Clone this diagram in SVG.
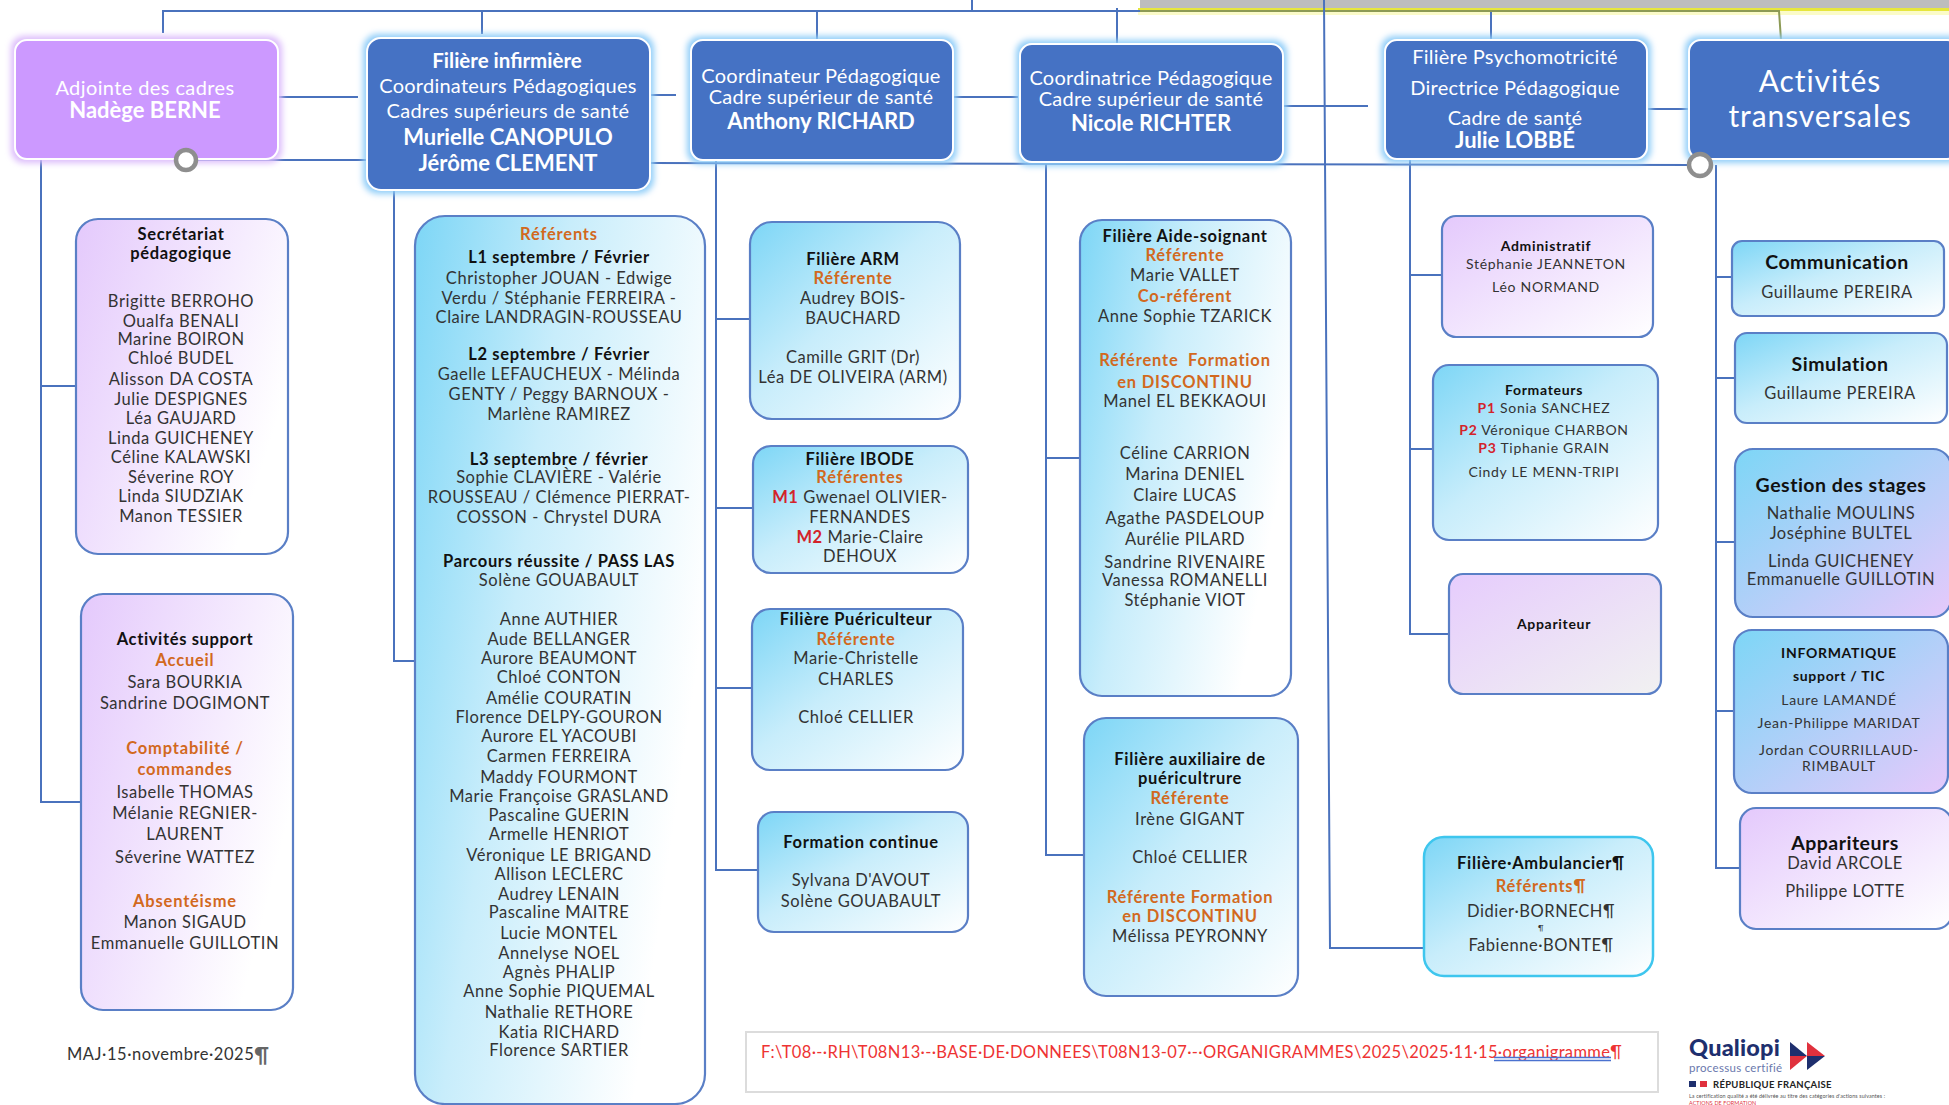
<svg xmlns="http://www.w3.org/2000/svg" width="1949" height="1105" viewBox="0 0 1949 1105">
<style>
text{font-family:"Lato","Liberation Sans",sans-serif;text-anchor:middle;dominant-baseline:central;fill:#333;font-size:16.5px;letter-spacing:.55px}
.b{font-weight:700;fill:#111;letter-spacing:.65px}
.o{font-weight:700;fill:#d2691e;letter-spacing:.8px}
.r{font-weight:700;fill:#d3232a}
.w{fill:#fff;font-size:20px;letter-spacing:.25px;transform:translateY(-1px)}
.wb{fill:#fff;font-size:20.5px;font-weight:700;letter-spacing:0;transform:translateY(-1px)}
.wn{fill:#fff;font-size:22px;font-weight:700;letter-spacing:0;transform:translateY(-1px)}
.s{font-size:14px;letter-spacing:.7px;transform:translateY(-1px)}
.sb{font-size:14px;font-weight:700;fill:#111;letter-spacing:.7px;transform:translateY(-1px)}
.h{font-size:19.5px;font-weight:700;fill:#111;letter-spacing:.5px;transform:translateY(-1px)}
.top{fill:#4472c4;stroke:#fff;stroke-width:2;filter:url(#gb)}
.pur{fill:#cc99ff;stroke:#fff;stroke-width:2;filter:url(#gp)}
.sub{stroke:#5a7fc6;stroke-width:2.2}
.c{fill:url(#cy)}.t{fill:url(#cyr)}.p{fill:url(#pu)}.q{fill:url(#pur)}.m{fill:url(#mx)}.g{fill:url(#pg)}
.ln{fill:none;stroke:#4a72bd;stroke-width:2}
</style>
<defs>
<linearGradient id="cy" x1="0" y1="0" x2="1" y2="1"><stop offset="0" stop-color="#7dd6f6"/><stop offset=".45" stop-color="#c8edfb"/><stop offset="1" stop-color="#fff"/></linearGradient>
<linearGradient id="cyr" x1="0" y1="0" x2="1" y2=".45"><stop offset="0" stop-color="#7dd6f6"/><stop offset=".45" stop-color="#c8edfb"/><stop offset="1" stop-color="#fff"/></linearGradient>
<linearGradient id="pu" x1="0" y1="0" x2="1" y2="1"><stop offset="0" stop-color="#e4c9fc"/><stop offset="1" stop-color="#fff"/></linearGradient>
<linearGradient id="pur" x1="0" y1="0" x2="1" y2=".5"><stop offset="0" stop-color="#e4c9fc"/><stop offset="1" stop-color="#fff"/></linearGradient>
<linearGradient id="pg" x1="0" y1="0" x2="1" y2="1"><stop offset="0" stop-color="#e6ccfd"/><stop offset="1" stop-color="#f1f1f1"/></linearGradient>
<linearGradient id="mx" x1="0" y1="0" x2="1" y2="1"><stop offset="0" stop-color="#7dd6f6"/><stop offset="1" stop-color="#e6c9fb"/></linearGradient>
<filter id="gb" x="-10%" y="-15%" width="120%" height="130%"><feMorphology in="SourceAlpha" operator="dilate" radius="3"/><feGaussianBlur stdDeviation="3" result="a"/><feFlood flood-color="#8fcdf8"/><feComposite in2="a" operator="in"/><feMerge><feMergeNode/><feMergeNode in="SourceGraphic"/></feMerge></filter>
<filter id="gp" x="-10%" y="-15%" width="120%" height="130%"><feMorphology in="SourceAlpha" operator="dilate" radius="3"/><feGaussianBlur stdDeviation="3" result="a"/><feFlood flood-color="#dcbcfb"/><feComposite in2="a" operator="in"/><feMerge><feMergeNode/><feMergeNode in="SourceGraphic"/></feMerge></filter>
</defs>
<rect width="1949" height="1105" fill="#fff"/>
<g id="bandeau"><rect x="1140" y="0" width="809" height="8" fill="#bdbdbd"/><rect x="1138" y="8" width="811" height="3" fill="#e6e63c"/><rect x="1138" y="11" width="811" height="4" fill="#fbfbc8"/></g>
<g id="connectors" class="ln">
<path d="M163 33V11H1140M482 11V34M817 11V40M972 0V11M1117 8V44M1491 11V40"/>
<path d="M1140 11H1779L1781 40" style="stroke:#8c9a55"/>
<path d="M1324 0L1330 948H1424"/>
<path d="M278 97H358M650 95H676M953 97H1018M1283 106H1368M1647 109H1689"/>
<path d="M186 141V160H367M650 163L1700 165"/>
<path d="M41 159V802H81M41 386H76"/>
<path d="M394 189V661H415"/>
<path d="M716 160V870H758M716 319H750M716 508H753M716 688H752"/>
<path d="M1046 162V855H1084M1046 458H1080"/>
<path d="M1410 159V634H1449M1410 275H1442M1410 449H1433"/>
<path d="M1716 165V868H1740M1716 277H1732M1716 378H1735M1716 542H1735M1716 711H1734"/>
</g>
<g id="n-adjointe"><rect class="pur" x="15" y="40" width="263" height="119" rx="12"/><text class="w" x="145" y="88" style="font-size:20px;letter-spacing:.4px">Adjointe des cadres</text><text class="wb" x="145" y="110" style="font-size:22px">Nadège BERNE</text></g>
<g id="n-infirmiere"><rect class="top" x="367" y="38" width="283" height="152" rx="14"/><text class="wb" x="507" y="61">Filière infirmière</text><text class="w" x="508" y="86">Coordinateurs Pédagogiques</text><text class="w" x="508" y="111">Cadres supérieurs de santé</text><text class="wn" x="508" y="137">Murielle CANOPULO</text><text class="wn" x="508" y="163">Jérôme CLEMENT</text></g>
<g id="n-richard"><rect class="top" x="691" y="40" width="262" height="120" rx="12"/><text class="w" x="821" y="76">Coordinateur Pédagogique</text><text class="w" x="821" y="97">Cadre supérieur de santé</text><text class="wn" x="821" y="121">Anthony RICHARD</text></g>
<g id="n-richter"><rect class="top" x="1020" y="44" width="263" height="118" rx="12"/><text class="w" x="1151" y="78">Coordinatrice Pédagogique</text><text class="w" x="1151" y="99">Cadre supérieur de santé</text><text class="wn" x="1151" y="123">Nicole RICHTER</text></g>
<g id="n-lobbe"><rect class="top" x="1385" y="40" width="262" height="119" rx="12"/><text class="w" x="1515" y="57">Filière Psychomotricité</text><text class="w" x="1515" y="88">Directrice Pédagogique</text><text class="w" x="1515" y="118">Cadre de santé</text><text class="wn" x="1515" y="140">Julie LOBBÉ</text></g>
<g id="n-activites"><rect class="top" x="1689" y="40" width="270" height="119" rx="12"/><text class="w" x="1820" y="81" style="font-size:30px;letter-spacing:.9px">Activités</text><text class="w" x="1820" y="116" style="font-size:30px;letter-spacing:.9px">transversales</text></g>

<g id="n-secretariat"><rect class="sub q" x="76" y="219" width="212" height="335" rx="22"/><text class="b" x="181" y="234">Secrétariat</text><text class="b" x="181" y="253">pédagogique</text><text x="181" y="301">Brigitte BERROHO</text><text x="181" y="321">Oualfa BENALI</text><text x="181" y="339">Marine BOIRON</text><text x="181" y="358">Chloé BUDEL</text><text x="181" y="379">Alisson DA COSTA</text><text x="181" y="399">Julie DESPIGNES</text><text x="181" y="418">Léa GAUJARD</text><text x="181" y="438">Linda GUICHENEY</text><text x="181" y="457">Céline KALAWSKI</text><text x="181" y="477">Séverine ROY</text><text x="181" y="496">Linda SIUDZIAK</text><text x="181" y="516">Manon TESSIER</text></g>
<g id="n-support"><rect class="sub q" x="81" y="594" width="212" height="416" rx="22"/><text class="b" x="185" y="639">Activités support</text><text class="o" x="185" y="660">Accueil</text><text x="185" y="682">Sara BOURKIA</text><text x="185" y="703">Sandrine DOGIMONT</text><text class="o" x="185" y="748">Comptabilité /</text><text class="o" x="185" y="769">commandes</text><text x="185" y="792">Isabelle THOMAS</text><text x="185" y="813">Mélanie REGNIER-</text><text x="185" y="834">LAURENT</text><text x="185" y="857">Séverine WATTEZ</text><text class="o" x="185" y="901">Absentéisme</text><text x="185" y="922">Manon SIGAUD</text><text x="185" y="943">Emmanuelle GUILLOTIN</text></g>
<g id="n-referents"><rect class="sub t" x="415" y="216" width="290" height="888" rx="30"/>
<text class="o" x="559" y="234">Référents</text><text class="b" x="559" y="257">L1 septembre / Février</text><text x="559" y="278">Christopher JOUAN - Edwige</text><text x="559" y="298">Verdu / Stéphanie FERREIRA -</text><text x="559" y="317">Claire LANDRAGIN-ROUSSEAU</text>
<text class="b" x="559" y="354">L2 septembre / Février</text><text x="559" y="374">Gaelle LEFAUCHEUX - Mélinda</text><text x="559" y="394">GENTY / Peggy BARNOUX -</text><text x="559" y="414">Marlène RAMIREZ</text>
<text class="b" x="559" y="459">L3 septembre / février</text><text x="559" y="477">Sophie CLAVIÈRE - Valérie</text><text x="559" y="497">ROUSSEAU / Clémence PIERRAT-</text><text x="559" y="517">COSSON - Chrystel DURA</text>
<text class="b" x="559" y="561">Parcours réussite / PASS LAS</text><text x="559" y="580">Solène GOUABAULT</text>
<text x="559" y="619">Anne AUTHIER</text><text x="559" y="639">Aude BELLANGER</text><text x="559" y="658">Aurore BEAUMONT</text><text x="559" y="677">Chloé CONTON</text><text x="559" y="698">Amélie COURATIN</text><text x="559" y="717">Florence DELPY-GOURON</text><text x="559" y="736">Aurore EL YACOUBI</text><text x="559" y="756">Carmen FERREIRA</text><text x="559" y="777">Maddy FOURMONT</text><text x="559" y="796">Marie Françoise GRASLAND</text><text x="559" y="815">Pascaline GUERIN</text><text x="559" y="834">Armelle HENRIOT</text><text x="559" y="855">Véronique LE BRIGAND</text><text x="559" y="874">Allison LECLERC</text><text x="559" y="894">Audrey LENAIN</text><text x="559" y="912">Pascaline MAITRE</text><text x="559" y="933">Lucie MONTEL</text><text x="559" y="953">Annelyse NOEL</text><text x="559" y="972">Agnès PHALIP</text><text x="559" y="991">Anne Sophie PIQUEMAL</text><text x="559" y="1012">Nathalie RETHORE</text><text x="559" y="1032">Katia RICHARD</text><text x="559" y="1050">Florence SARTIER</text></g>
<g id="n-arm"><rect class="sub c" x="750" y="222" width="210" height="197" rx="22"/><text class="b" x="853" y="259">Filière ARM</text><text class="o" x="853" y="278">Référente</text><text x="853" y="298">Audrey BOIS-</text><text x="853" y="318">BAUCHARD</text><text x="853" y="357">Camille GRIT (Dr)</text><text x="853" y="377">Léa DE OLIVEIRA (ARM)</text></g>
<g id="n-ibode"><rect class="sub c" x="753" y="446" width="215" height="127" rx="18"/><text class="b" x="860" y="459">Filière IBODE</text><text class="o" x="860" y="477">Référentes</text><text x="860" y="497"><tspan class="r">M1</tspan> Gwenael OLIVIER-</text><text x="860" y="517">FERNANDES</text><text x="860" y="537"><tspan class="r">M2</tspan> Marie-Claire</text><text x="860" y="556">DEHOUX</text></g>
<g id="n-puericulteur"><rect class="sub c" x="752" y="609" width="211" height="161" rx="18"/><text class="b" x="856" y="619">Filière Puériculteur</text><text class="o" x="856" y="639">Référente</text><text x="856" y="658">Marie-Christelle</text><text x="856" y="679">CHARLES</text><text x="856" y="717">Chloé CELLIER</text></g>
<g id="n-continue"><rect class="sub c" x="758" y="812" width="210" height="120" rx="16"/><text class="b" x="861" y="842">Formation continue</text><text x="861" y="880">Sylvana D'AVOUT</text><text x="861" y="901">Solène GOUABAULT</text></g>
<g id="n-aide"><rect class="sub t" x="1080" y="220" width="211" height="476" rx="22"/><text class="b" x="1185" y="236">Filière Aide-soignant</text><text class="o" x="1185" y="255">Référente</text><text x="1185" y="275">Marie VALLET</text><text class="o" x="1185" y="296">Co-référent</text><text x="1185" y="316">Anne Sophie TZARICK</text><text class="o" x="1185" y="360">Référente&#160; Formation</text><text class="o" x="1185" y="382">en DISCONTINU</text><text x="1185" y="401">Manel EL BEKKAOUI</text><text x="1185" y="453">Céline CARRION</text><text x="1185" y="474">Marina DENIEL</text><text x="1185" y="495">Claire LUCAS</text><text x="1185" y="518">Agathe PASDELOUP</text><text x="1185" y="539">Aurélie PILARD</text><text x="1185" y="562">Sandrine RIVENAIRE</text><text x="1185" y="580">Vanessa ROMANELLI</text><text x="1185" y="600">Stéphanie VIOT</text></g>
<g id="n-auxiliaire"><rect class="sub c" x="1084" y="718" width="214" height="278" rx="22"/><text class="b" x="1190" y="759">Filière auxiliaire de</text><text class="b" x="1190" y="778">puéricultrure</text><text class="o" x="1190" y="798">Référente</text><text x="1190" y="819">Irène GIGANT</text><text x="1190" y="857">Chloé CELLIER</text><text class="o" x="1190" y="897">Référente Formation</text><text class="o" x="1190" y="916">en DISCONTINU</text><text x="1190" y="936">Mélissa PEYRONNY</text></g>
<g id="n-admin"><rect class="sub p" x="1442" y="216" width="211" height="121" rx="14"/><text class="sb" x="1546" y="246">Administratif</text><text class="s" x="1546" y="264">Stéphanie JEANNETON</text><text class="s" x="1546" y="287">Léo NORMAND</text></g>
<g id="n-formateurs"><rect class="sub c" x="1433" y="365" width="225" height="175" rx="16"/><text class="sb" x="1544" y="390">Formateurs</text><text class="s" x="1544" y="408"><tspan class="r">P1</tspan> Sonia SANCHEZ</text><text class="s" x="1544" y="430"><tspan class="r">P2</tspan> Véronique CHARBON</text><text class="s" x="1544" y="448"><tspan class="r">P3</tspan> Tiphanie GRAIN</text><text class="s" x="1544" y="472">Cindy LE MENN-TRIPI</text></g>
<g id="n-appariteur"><rect class="sub g" x="1449" y="574" width="212" height="120" rx="14"/><text class="sb" x="1554" y="624">Appariteur</text></g>
<g id="n-ambulancier"><rect x="1424" y="837" width="229" height="139" rx="20" fill="url(#cy)" stroke="#3ec6ee" stroke-width="2.5"/><text class="b" x="1541" y="863">Filière·Ambulancier¶</text><text class="o" x="1541" y="886">Référents¶</text><text x="1541" y="911">Didier·BORNECH¶</text><text x="1541" y="928" style="font-size:8px">¶</text><text x="1541" y="945">Fabienne·BONTE¶</text></g>
<g id="n-communication"><rect class="sub c" x="1732" y="241" width="212" height="75" rx="10"/><text class="h" x="1837" y="262">Communication</text><text x="1837" y="292">Guillaume PEREIRA</text></g>
<g id="n-simulation"><rect class="sub c" x="1735" y="333" width="212" height="90" rx="12"/><text class="h" x="1840" y="364">Simulation</text><text x="1840" y="393">Guillaume PEREIRA</text></g>
<g id="n-stages"><rect class="sub m" x="1735" y="449" width="216" height="168" rx="18"/><text class="h" x="1841" y="485">Gestion des stages</text><text x="1841" y="513">Nathalie MOULINS</text><text x="1841" y="533">Joséphine BULTEL</text><text x="1841" y="561">Linda GUICHENEY</text><text x="1841" y="579">Emmanuelle GUILLOTIN</text></g>
<g id="n-informatique"><rect class="sub m" x="1734" y="630" width="214" height="163" rx="18"/><text class="sb" x="1839" y="653">INFORMATIQUE</text><text class="sb" x="1839" y="676">support / TIC</text><text class="s" x="1839" y="700">Laure LAMANDÉ</text><text class="s" x="1839" y="723">Jean-Philippe MARIDAT</text><text class="s" x="1839" y="750">Jordan COURRILLAUD-</text><text class="s" x="1839" y="766">RIMBAULT</text></g>
<g id="n-appariteurs"><rect class="sub p" x="1740" y="808" width="212" height="121" rx="16"/><text class="h" x="1845" y="843">Appariteurs</text><text x="1845" y="863">David ARCOLE</text><text x="1845" y="891">Philippe LOTTE</text></g>
<g id="joints"><circle cx="186" cy="160" r="10" fill="#fff" stroke="#8e8e8e" stroke-width="4.500"/><circle cx="1700" cy="165" r="11" fill="#fff" stroke="#8e8e8e" stroke-width="4.500"/></g>

<g id="n-maj"><text x="67" y="1054" style="text-anchor:start">MAJ·15·novembre·2025<tspan style="font-size:20px;font-weight:700;fill:#666">¶</tspan></text></g>
<g id="n-chemin"><rect x="746" y="1032" width="912" height="60" fill="#fff" stroke="#dcdcdc" stroke-width="2"/><text x="761" y="1052" style="text-anchor:start;fill:#ee3333;letter-spacing:.35px">F:\T08·-·RH\T08N13·-·BASE·DE·DONNEES\T08N13-07·-·ORGANIGRAMMES\2025\2025·11·15·organigramme¶</text><path d="M1494 1057.500H1611M1494 1060.500H1611" stroke="#4a72d0" stroke-width="1.500" fill="none"/></g>
<g id="logo"><text x="1689" y="1047" style="text-anchor:start;font-size:23.500px;font-weight:900;fill:#1e2f6e;letter-spacing:.2px">Qualiopi</text>
<polygon points="1790,1042 1807,1056 1790,1056" fill="#1e2f6e"/><polygon points="1790,1056 1807,1056 1790,1070" fill="#e0313d"/><polygon points="1807,1042 1825,1056 1807,1056" fill="#e0313d"/><polygon points="1807,1056 1825,1056 1807,1070" fill="#1e2f6e"/>
<text x="1689" y="1067" style="text-anchor:start;font-size:11.500px;fill:#6a78ad;letter-spacing:.3px">processus certifié</text>
<rect x="1689" y="1081" width="7" height="6" fill="#1e2f6e"/><rect x="1700" y="1081" width="7" height="6" fill="#e0313d"/>
<text x="1713" y="1084" style="text-anchor:start;font-size:9.500px;font-weight:700;fill:#222;letter-spacing:.3px">RÉPUBLIQUE FRANÇAISE</text>
<text x="1689" y="1095.500" style="text-anchor:start;font-size:5.400px;fill:#555;letter-spacing:.1px">La certification qualité a été délivrée au titre des catégories d'actions suivantes :</text>
<text x="1689" y="1102.500" style="text-anchor:start;font-size:5.400px;fill:#e0313d;letter-spacing:.1px">ACTIONS DE FORMATION</text></g>
</svg>
